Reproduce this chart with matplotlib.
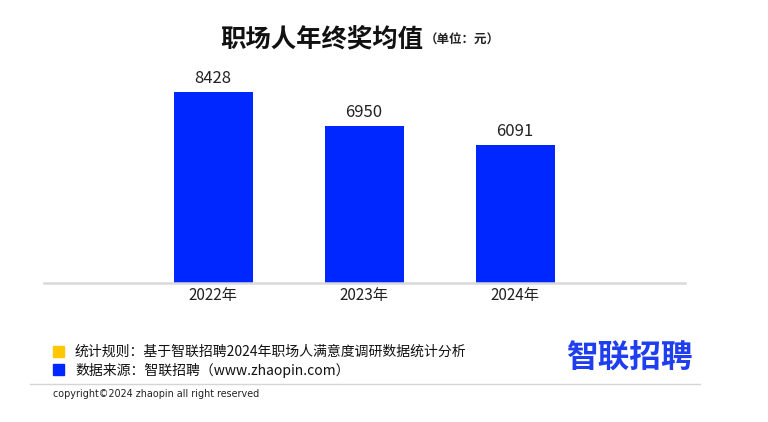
import matplotlib
matplotlib.use("Agg")
import matplotlib.pyplot as plt
import matplotlib.patches as mpatches

plt.rcParams['font.family'] = ['Noto Sans CJK SC', 'DejaVu Sans']

# data
years = ['2022年', '2023年', '2024年']
bonus = [8428, 6950, 6091]

bar_color = '#0027FF'
W, H = 768, 422

fig = plt.figure(figsize=(W / 100, H / 100), dpi=100, facecolor='white')

# plot area: baseline at y=283px, line spans x=44..685px
ax_left, ax_right = 44, 685
ax_bottom, ax_top = 283, 60
ax = fig.add_axes([ax_left / W, 1 - ax_bottom / H,
                   (ax_right - ax_left) / W, (ax_bottom - ax_top) / H])
x = list(range(len(years)))
ax.bar(x, bonus, width=0.523, color=bar_color, zorder=2)
ax.set_xlim(-1.12, 3.125)
ax.set_ylim(0, 9841)
for xi, v in zip(x, bonus):
    ax.text(xi, v + 220, str(v), ha='center', va='bottom', fontsize=12,
            color='#222222')
ax.set_xticks(x)
ax.set_xticklabels(years, fontsize=11, color='#222222')
ax.tick_params(axis='x', length=0, pad=3)
ax.set_yticks([])
for s in ['top', 'right', 'left']:
    ax.spines[s].set_visible(False)
ax.spines['bottom'].set_color('#d9d9d9')
ax.spines['bottom'].set_linewidth(1.8)
ax.set_facecolor('none')

# title
fig.text(423 / W, 1 - 39 / H, '职场人年终奖均值', ha='right', va='center',
         fontsize=18.3, fontweight='bold', color='#111111')
fig.text(425 / W, 1 - 40 / H, '（单位：元）', ha='left', va='center',
         fontsize=9, fontweight='bold', color='#222222')

# footer notes
fig.patches.append(mpatches.Rectangle((53 / W, 1 - 357 / H), 11 / W, 11 / H,
                                      transform=fig.transFigure,
                                      color='#FFC800'))
fig.patches.append(mpatches.Rectangle((53 / W, 1 - 375 / H), 11 / W, 11 / H,
                                      transform=fig.transFigure,
                                      color=bar_color))
fig.text(75 / W, 1 - 352 / H, '统计规则：基于智联招聘2024年职场人满意度调研数据统计分析',
         ha='left', va='center', fontsize=10, color='#111111')
fig.text(75 / W, 1 - 370 / H, '数据来源：智联招聘（www.zhaopin.com）',
         ha='left', va='center', fontsize=10, color='#111111')

# logo
fig.text(566 / W, 1 - 359 / H, '智联招聘', ha='left', va='center',
         fontsize=22.8, fontweight='bold', color='#1E3EF0')

# separator and copyright
fig.add_artist(plt.Line2D([30 / W, 700 / W], [1 - 384 / H, 1 - 384 / H],
                          color='#d5d5d5', linewidth=1))
fig.text(53 / W, 1 - 394 / H, 'copyright©2024 zhaopin all right reserved',
         ha='left', va='center', fontsize=6.9, color='#222222',
         family=['DejaVu Sans'])

fig.savefig('out.png', dpi=100, facecolor='white')
